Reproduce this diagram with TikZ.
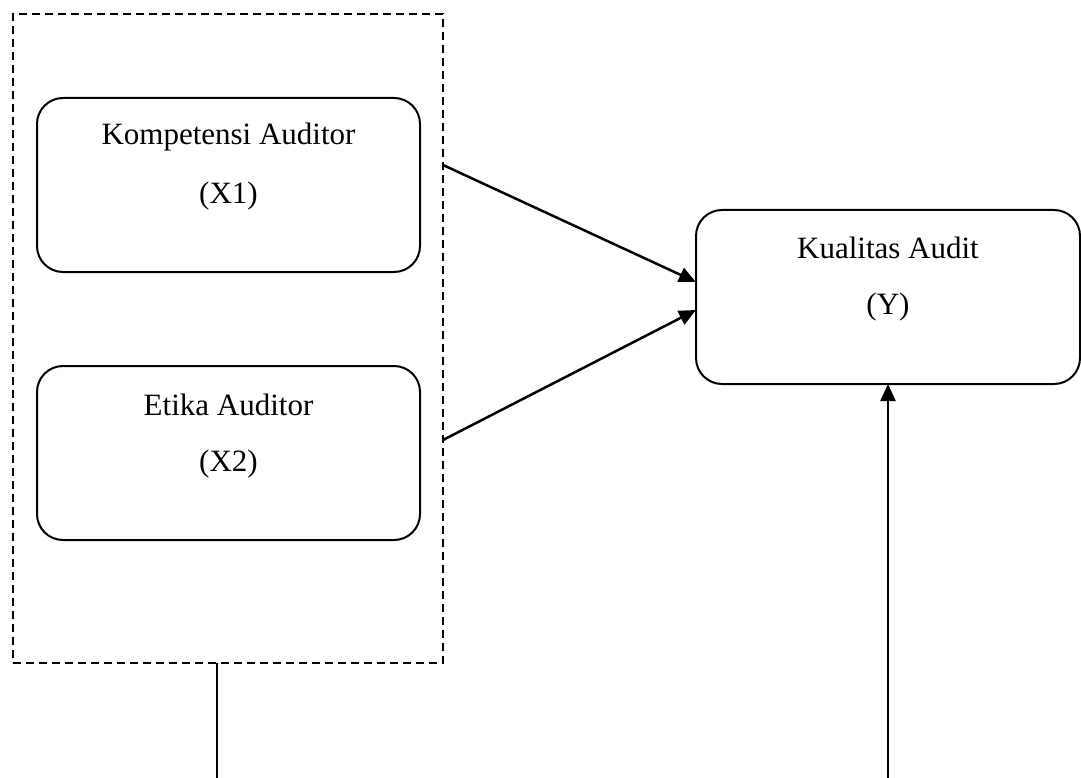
\documentclass[tikz,border=0pt]{standalone}
\usepackage{fontspec}
\setmainfont{Liberation Serif}
\usetikzlibrary{arrows.meta}
\begin{document}
\begin{tikzpicture}[x=1pt,y=-1pt,
  roundbox/.style={draw,line width=2pt,rounded corners=26pt,inner sep=0pt,outer sep=0pt},
  groupbox/.style={draw,line width=2pt,dash pattern=on 8pt off 5pt,inner sep=0pt,outer sep=0pt},
  txt/.style={font=\fontsize{31}{37}\selectfont,inner sep=0pt},
  conn/.style={line width=2.5pt},
  arr/.style={line width=2.5pt,-{Triangle[length=17pt,width=15pt]}}]
\useasboundingbox (0,0) rectangle (1081,778);
\node[groupbox,minimum width=430pt,minimum height=649pt] (g) at (228,338.5) {};
\node[roundbox,minimum width=383pt,minimum height=174pt] (k) at (228.5,185) {};
\node[roundbox,minimum width=383pt,minimum height=174pt] (e) at (228.5,453) {};
\node[roundbox,minimum width=384pt,minimum height=174pt] (q) at (888,297) {};
\node[txt] (kt) at (228.5,137) {Kompetensi Auditor};
\node[txt] (kx) at (228.5,196) {(X1)};
\node[txt] (et) at (228.5,405) {Etika Auditor};
\node[txt] (ex) at (228.5,464) {(X2)};
\node[txt] (qt) at (888,248) {Kualitas Audit};
\node[txt] (qx) at (888,307) {(Y)};
\coordinate (b1) at (217,778);
\coordinate (b2) at (888,778);
\draw[arr] ([yshift=173.5pt]g.east) -- ([yshift=15pt]q.west);
\draw[arr] ([yshift=-101.5pt]g.east) -- ([yshift=-13pt]q.west);
\draw[conn] ([xshift=-11pt]g.south) -- (b1);
\draw[arr] (b2) -- (q.south);
\end{tikzpicture}
\end{document}
